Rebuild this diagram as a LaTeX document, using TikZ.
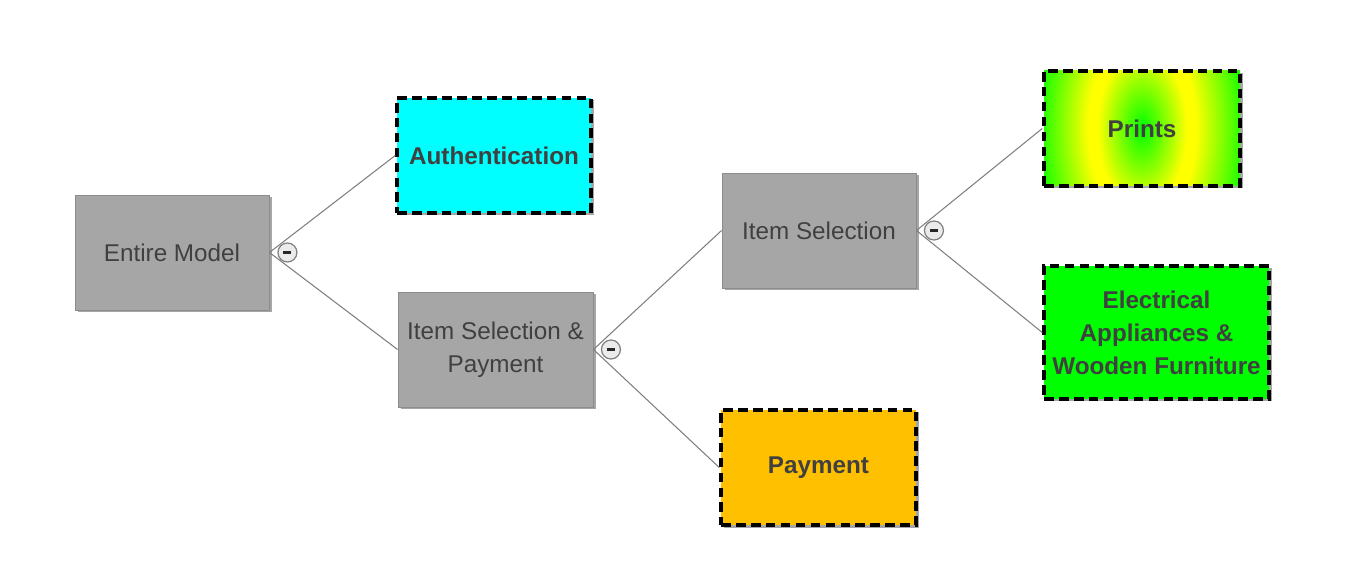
\documentclass[tikz,border=0pt]{standalone}
\usepackage{fontspec}
\setmainfont{Liberation Sans}
\usetikzlibrary{shadows}
\definecolor{boxgray}{HTML}{A6A6A6}
\definecolor{boxedge}{HTML}{8C8C8C}
\definecolor{txt}{HTML}{404040}
\definecolor{linegray}{HTML}{7F7F7F}
\definecolor{authcyan}{HTML}{00FFFF}
\definecolor{payorange}{HTML}{FFC000}
\definecolor{leafgreen}{HTML}{00FF00}
\pgfdeclareradialshading{printsshade}{\pgfpoint{0bp}{0bp}}{color(0bp)=(leafgreen); color(9.5bp)=(yellow); color(11.5bp)=(yellow); color(23bp)=(leafgreen); color(50bp)=(leafgreen)}
\tikzset{
  base/.style={rectangle, minimum width=3.88cm, minimum height=2.3cm, inner sep=2pt, align=center, text=txt, font=\fontsize{13.8}{18.7}\selectfont,
    drop shadow={shadow xshift=0.05cm, shadow yshift=-0.05cm, opacity=0.35, fill=black}},
  graybox/.style={base, fill=boxgray, draw=boxedge, line width=0.5pt},
  leafbox/.style={base, draw=black, line width=2pt, dash pattern=on 5.5pt off 3pt, font=\bfseries\fontsize{13.8}{18.7}\selectfont},
  conn/.style={draw=linegray, line width=0.6pt},
  minus/.style={circle, minimum size=0.38cm, inner sep=0pt, draw=gray, line width=0.7pt, fill=black!8,
    path picture={\fill[black!85] ([xshift=-0.08cm,yshift=-0.028cm]path picture bounding box.center) rectangle ([xshift=0.08cm,yshift=0.028cm]path picture bounding box.center);}}
}
\begin{document}
\begin{tikzpicture}
\useasboundingbox (0,0) rectangle (27,11.26);
\node[graybox] (em) at (3.44,6.21) {Entire Model};
\node[leafbox, fill=authcyan] (auth) at (9.88,8.15) {Authentication};
\node[graybox, minimum width=3.9cm] (isp) at (9.91,4.27) {Item Selection \&\\Payment};
\node[graybox] (is) at (16.38,6.65) {Item Selection};
\node[leafbox, fill=payorange, minimum width=3.9cm] (pay) at (16.37,1.91) {Payment};
\node[leafbox, minimum width=3.92cm,
  path picture={\shade[shading=printsshade] (path picture bounding box.center) ellipse (2.35cm and 4.2cm);}] (prints) at (22.84,8.69) {Prints};
\node[leafbox, fill=leafgreen, minimum width=4.5cm, minimum height=2.66cm, inner sep=1pt] (elec) at (23.13,4.61) {Electrical\\Appliances \&\\Wooden Furniture};
\draw[conn] (em.east) -- (auth.west);
\draw[conn] (em.east) -- (isp.west);
\draw[conn] (isp.east) -- (is.west);
\draw[conn] (isp.east) -- (pay.west);
\draw[conn] (is.east) -- (prints.west);
\draw[conn] (is.east) -- (elec.west);
\node[minus] (m1) at ([xshift=0.36cm]em.east) {};
\node[minus] (m2) at ([xshift=0.35cm]isp.east) {};
\node[minus] (m3) at ([xshift=0.35cm]is.east) {};
\end{tikzpicture}
\end{document}
